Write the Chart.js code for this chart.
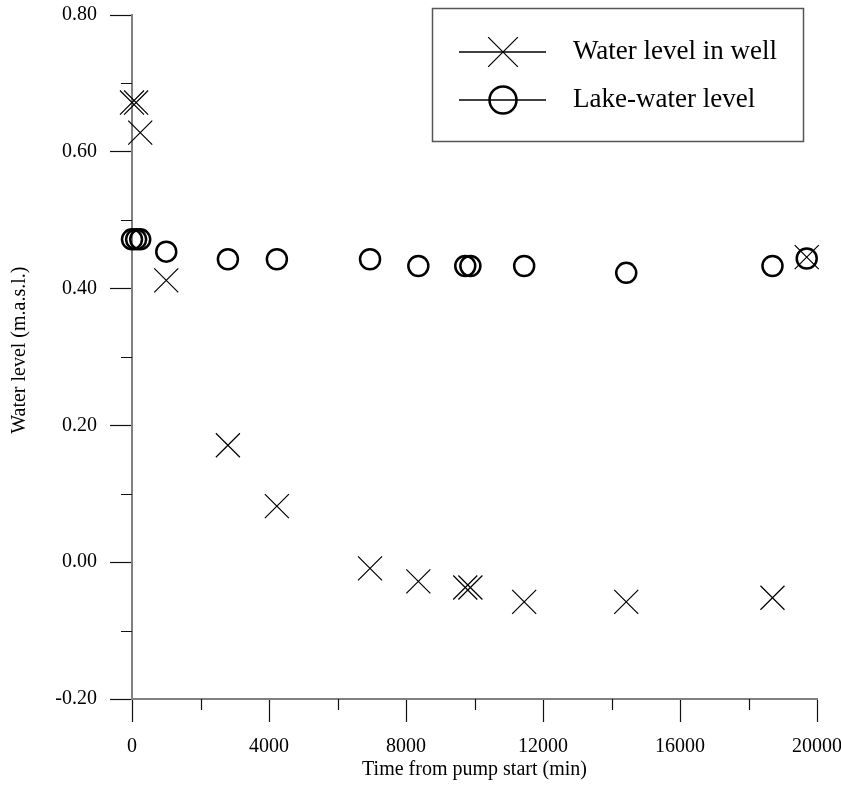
<!DOCTYPE html>
<html>
<head>
<meta charset="utf-8">
<script src="https://cdn.jsdelivr.net/npm/chart.js@4.4.0/dist/chart.umd.min.js"></script>
<style>
  html, body { margin: 0; padding: 0; background: #fff; }
</style>
</head>
<body>
<canvas id="levelChart" width="841" height="785"></canvas>
<script>
// Time from pump start (min) and measured water levels (m.a.s.l.)
const wellTime  = [0, 120, 240, 1000, 2800, 4230, 6950, 8360, 9730, 9880, 11450, 14430, 18700, 19700];
const wellLevel = [0.672, 0.672, 0.628, 0.412, 0.171, 0.082, -0.009, -0.028, -0.037, -0.037, -0.058, -0.058, -0.052, 0.446];

const lakeTime  = [0, 120, 240, 1000, 2800, 4230, 6950, 8360, 9730, 9880, 11450, 14430, 18700, 19700];
const lakeLevel = [0.472, 0.472, 0.472, 0.454, 0.443, 0.443, 0.443, 0.433, 0.433, 0.433, 0.433, 0.423, 0.433, 0.444];

const seriesNames = ["Water level in well", "Lake-water level"];
const yTitle = "Water level (m.a.s.l.)";

// minor tick positions (unlabelled)
const minorXTicks = [2000, 6000, 10000, 14000, 18000];
const minorYTicks = [-0.1, 0.1, 0.3, 0.5, 0.7];

const serif = '"Liberation Serif", "Times New Roman", Times, serif';

const toPoints = (xs, ys) => xs.map((x, i) => ({ x, y: ys[i] }));

// keep the plot box fixed: drop the padding chart.js adds for overhanging labels
const fixPad = s => {
  s.paddingTop = 0;
  s.paddingBottom = 0;
  s.paddingLeft = 0;
  s.paddingRight = 0;
};

/* minor ticks + rotated y title */
const minorTicks = {
  id: "minorTicks",
  afterDraw(chart) {
    const { ctx, chartArea, scales } = chart;
    ctx.save();
    ctx.strokeStyle = "#111";
    ctx.lineWidth = 1.2;
    ctx.beginPath();
    minorXTicks.forEach(v => {
      const px = Math.round(scales.x.getPixelForValue(v)) + 0.5;
      ctx.moveTo(px, chartArea.bottom);
      ctx.lineTo(px, chartArea.bottom + 11);
    });
    minorYTicks.forEach(v => {
      const py = Math.round(scales.y.getPixelForValue(v)) + 0.5;
      ctx.moveTo(chartArea.left, py);
      ctx.lineTo(chartArea.left - 11, py);
    });
    ctx.stroke();

    // y title sits a little below the middle of the axis
    ctx.translate(20, scales.y.getPixelForValue(0.31));
    ctx.rotate(-Math.PI / 2);
    ctx.fillStyle = "#000";
    ctx.font = "20px " + serif;
    ctx.textAlign = "center";
    ctx.textBaseline = "middle";
    ctx.fillText(yTitle, 0, 0);
    ctx.restore();
  }
};

/* boxed legend in the upper right */
const boxLegend = {
  id: "boxLegend",
  afterDraw(chart) {
    const ctx = chart.ctx;
    ctx.save();
    ctx.strokeStyle = "#555";
    ctx.lineWidth = 1.5;
    ctx.strokeRect(432.5, 8.5, 371, 133);

    chart.data.datasets.forEach((ds, i) => {
      const y = 52 + i * 48;
      ctx.strokeStyle = "#000";
      ctx.lineWidth = 1.5;
      ctx.beginPath();
      ctx.moveTo(459, y);
      ctx.lineTo(546, y);
      ctx.stroke();

      ctx.fillStyle = "rgba(0,0,0,0)";
      ctx.lineWidth = ds.borderWidth;
      const opts = {
        pointStyle: ds.pointStyle,
        rotation: 0,
        radius: ds.pointStyle === "circle" ? 13.5 : 21,
        borderWidth: ds.borderWidth
      };
      if (Chart.helpers && Chart.helpers.drawPoint) {
        Chart.helpers.drawPoint(ctx, opts, 503, y);
      }

      ctx.fillStyle = "#000";
      ctx.font = "27px " + serif;
      ctx.textBaseline = "middle";
      ctx.textAlign = "left";
      ctx.fillText(ds.label, 573, y);
    });
    ctx.restore();
  }
};

new Chart(document.getElementById("levelChart"), {
  type: "scatter",
  data: {
    datasets: [
      {
        label: seriesNames[0],
        data: toPoints(wellTime, wellLevel),
        pointStyle: "crossRot",
        pointRadius: 17,
        pointHoverRadius: 17,
        borderColor: "#000",
        backgroundColor: "rgba(0,0,0,0)",
        borderWidth: 1.2,
        showLine: false,
        clip: false
      },
      {
        label: seriesNames[1],
        data: toPoints(lakeTime, lakeLevel),
        pointStyle: "circle",
        pointRadius: 10,
        pointHoverRadius: 10,
        borderColor: "#000",
        backgroundColor: "rgba(0,0,0,0)",
        borderWidth: 2.5,
        showLine: false,
        clip: false
      }
    ]
  },
  options: {
    responsive: false,
    animation: false,
    layout: {
      autoPadding: false,
      padding: { left: 0, top: 15, right: 24, bottom: 0 }
    },
    plugins: {
      legend: { display: false },
      tooltip: { enabled: false }
    },
    scales: {
      x: {
        type: "linear",
        min: 0,
        max: 20000,
        afterFit: s => { s.height = 86; fixPad(s); },
        border: { display: true, color: "#808080", width: 2 },
        grid: { display: true, drawOnChartArea: false, drawTicks: true, tickLength: 23, color: "#111", tickWidth: 1.2 },
        ticks: {
          stepSize: 4000,
          padding: 13,
          color: "#000",
          maxRotation: 0,
          font: { family: serif, size: 20 },
          callback: v => String(v)
        },
        title: {
          display: true,
          text: "Time from pump start (min)",
          color: "#000",
          font: { family: serif, size: 20 },
          padding: { top: 0, bottom: 3 }
        }
      },
      y: {
        type: "linear",
        min: -0.2,
        max: 0.8,
        afterFit: s => { s.width = 132; fixPad(s); },
        border: { display: true, color: "#808080", width: 2 },
        grid: { display: true, drawOnChartArea: false, drawTicks: true, tickLength: 22, color: "#111", tickWidth: 1.2 },
        ticks: {
          stepSize: 0.2,
          padding: 13,
          color: "#000",
          font: { family: serif, size: 20 },
          callback: v => Number(v).toFixed(2)
        }
      }
    }
  },
  plugins: [minorTicks, boxLegend]
});
</script>
</body>
</html>
